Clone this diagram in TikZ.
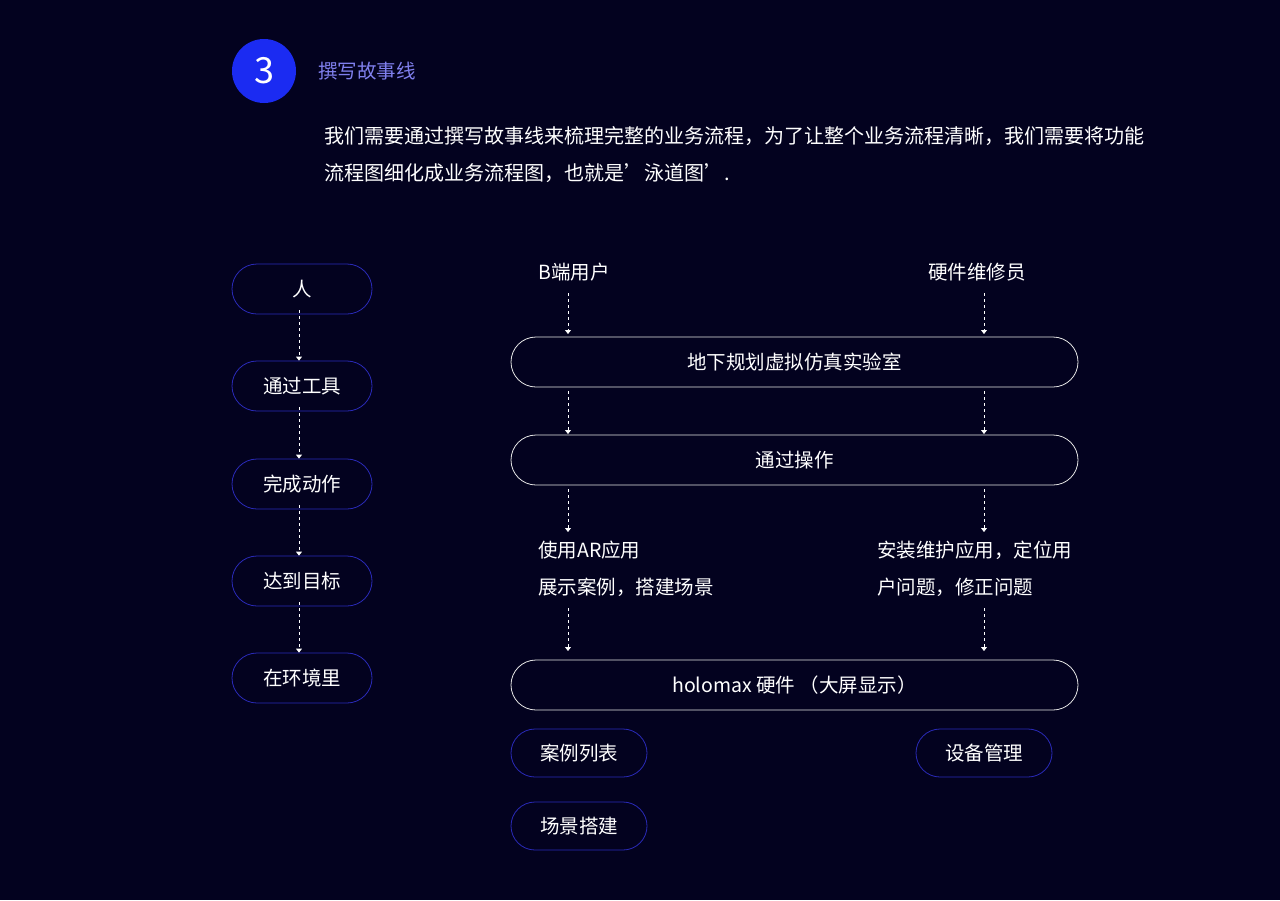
\documentclass[tikz,border=0pt]{standalone}
\usepackage{fontspec}
\setmainfont{Noto Sans CJK SC}
\usetikzlibrary{arrows.meta}
\definecolor{bg}{HTML}{03021F}
\definecolor{bluec}{HTML}{1B2BF2}
\definecolor{titlec}{HTML}{8080EE}
\definecolor{pillb}{HTML}{2A2AB8}
\begin{document}
\begin{tikzpicture}[x=1pt,y=-1pt,
 lpill/.style={draw=pillb,line width=0.8pt,rounded corners=25pt,minimum width=140pt,minimum height=50pt,text=white,font=\fontsize{19.5}{20}\selectfont,inner sep=0pt},
 wpill/.style={draw=white!80!gray,line width=0.8pt,rounded corners=25pt,minimum width=567pt,minimum height=50pt,text=white,font=\fontsize{19.5}{20}\selectfont,inner sep=0pt},
 spill/.style={lpill,minimum width=136pt,minimum height=48pt,rounded corners=24pt},
 lbl/.style={text=white,font=\fontsize{19.5}{20}\selectfont,inner sep=0pt},
 arr/.style={white,dashed,dash pattern=on 3pt off 3pt,line width=0.8pt,-{Triangle[width=6pt,length=4pt]}}]
\fill[bg] (0,0) rectangle (1280,900);
\useasboundingbox (0,0) rectangle (1280,900);
\node[circle,fill=bluec,minimum size=64pt,inner sep=0pt,text=white,font=\fontsize{36}{36}\selectfont] (c) at (264,71) {3};
\node[anchor=west,text=titlec,font=\fontsize{19.5}{20}\selectfont,inner sep=0pt] (t) at (318,71) {撰写故事线};
\node[anchor=west,lbl,font=\fontsize{20}{20}\selectfont] (p1) at (324,136) {我们需要通过撰写故事线来梳理完整的业务流程，为了让整个业务流程清晰，我们需要将功能};
\node[anchor=west,lbl,font=\fontsize{20}{20}\selectfont] (p2) at (324,173) {流程图细化成业务流程图，也就是’泳道图’.};
% left column
\node[lpill] (l1) at (302,289) {人};
\node[lpill] (l2) at (302,386) {通过工具};
\node[lpill] (l3) at (302,484) {完成动作};
\node[lpill] (l4) at (302,581) {达到目标};
\node[lpill] (l5) at (302,678) {在环境里};
\foreach \a/\b in {l1/l2,l2/l3,l3/l4,l4/l5} \draw[arr] ([xshift=-3pt,yshift=4pt]\a.south) -- ([xshift=-3pt]\b.north);
% right
\node[anchor=west,lbl] (bu) at (538,272) {B端用户};
\node[lbl] (hw) at (977,272) {硬件维修员};
\node[wpill] (w1) at (794.5,362) {地下规划虚拟仿真实验室};
\node[wpill] (w2) at (794.5,460) {通过操作};
\node[anchor=west,lbl] (u1) at (538,550) {使用AR应用};
\node[anchor=west,lbl] (u2) at (538,587) {展示案例，搭建场景};
\node[anchor=west,lbl] (v1) at (877,550) {安装维护应用，定位用};
\node[anchor=west,lbl] (v2) at (877,587) {户问题，修正问题};
\node[wpill] (w3) at (794.5,685) {holomax 硬件 （大屏显示）};
\node[spill] (s1) at (579,753) {案例列表};
\node[spill] (s2) at (579,826) {场景搭建};
\node[spill] (s3) at (984,753) {设备管理};
\foreach \x in {568,984}{
 \draw[arr] (\x,293) -- (\x,334);
 \draw[arr] (\x,391) -- (\x,434);
 \draw[arr] (\x,489) -- (\x,532);
 \draw[arr] (\x,608) -- (\x,651);
}
\end{tikzpicture}
\end{document}
